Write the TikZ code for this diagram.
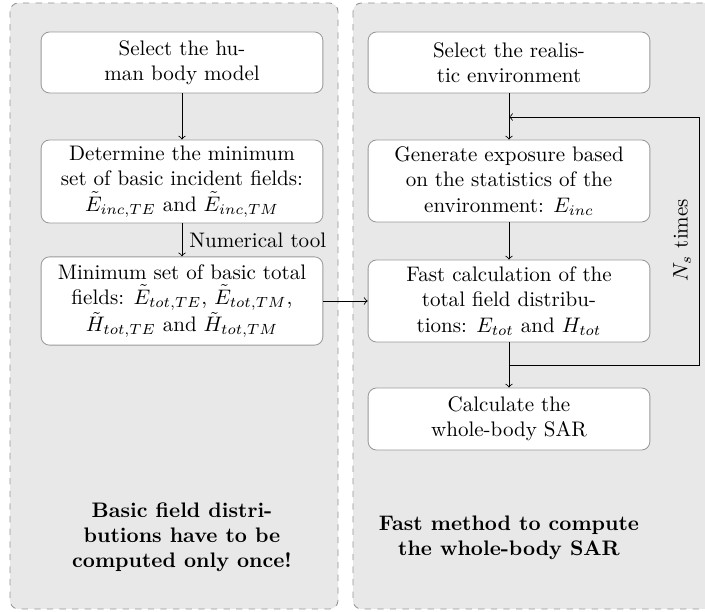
\documentclass[tikz,border=0pt]{standalone}
\usepackage{amsmath}
\begin{document}
\begin{tikzpicture}[x=0.4756pt, y=-0.4756pt, >=to,
  panel/.style={draw=gray!85, dashed, fill=gray!18, rounded corners=4pt},
  stepbox/.style={draw=gray!80, fill=white, rounded corners=4pt, align=center,
    minimum width=134pt, inner sep=2pt},
  note/.style={align=center, font=\bfseries}]
\useasboundingbox (0,0) rectangle (705,612);
\clip (0,0) rectangle (705,612);
% the two panels
\draw[panel] (10,3) rectangle (338,609);
\draw[panel] (353,3) rectangle (720,609);
% left column
\node[stepbox, minimum height=29pt] (L1) at (182,62.5) {Select the hu-\\man body model};
\node[stepbox, minimum height=39.5pt] (L2) at (182,181.5) {Determine the minimum\\set of basic incident fields:\\$\tilde{E}_{inc,TE}$ and $\tilde{E}_{inc,TM}$};
\node[stepbox, minimum height=42pt] (L3) at (182,301) {Minimum set of basic total\\fields: $\tilde{E}_{tot,TE}$, $\tilde{E}_{tot,TM}$,\\$\tilde{H}_{tot,TE}$ and $\tilde{H}_{tot,TM}$};
% right column
\node[stepbox, minimum height=29pt] (R1) at (509,62.5) {Select the realis-\\tic environment};
\node[stepbox, minimum height=39pt] (R2) at (509,181) {Generate exposure based\\on the statistics of the\\environment: $E_{inc}$};
\node[stepbox, minimum height=39pt] (R3) at (509,301) {Fast calculation of the\\total field distribu-\\tions: $E_{tot}$ and $H_{tot}$};
\node[stepbox, minimum height=29.5pt] (R4) at (509,419) {Calculate the\\whole-body SAR};
% arrows
\draw[->] (L1) -- (L2);
\draw[->] (L2) -- node[right] {Numerical tool} (L3);
\draw[->] (L3) -- (R3);
\draw[->] (R1) -- (R2);
\draw[->] (R2) -- (R3);
\draw[->] (R3) -- (R4);
% repetition loop
\coordinate (loopB) at (509,365);
\coordinate (loopBR) at (699,365);
\coordinate (loopTR) at (699,117);
\coordinate (loopT) at (509,117);
\draw[->] (loopB) -- (loopBR) -- (loopTR) -- (loopT);
\node[rotate=90] (Ns) at (682,240) {$N_s$ times};
% panel notes
\node[note] (noteL) at (182,537) {Basic field distri-\\butions have to be\\computed only once!};
\node[note] (noteR) at (509,537.5) {Fast method to compute\\the whole-body SAR};
\end{tikzpicture}
\end{document}
